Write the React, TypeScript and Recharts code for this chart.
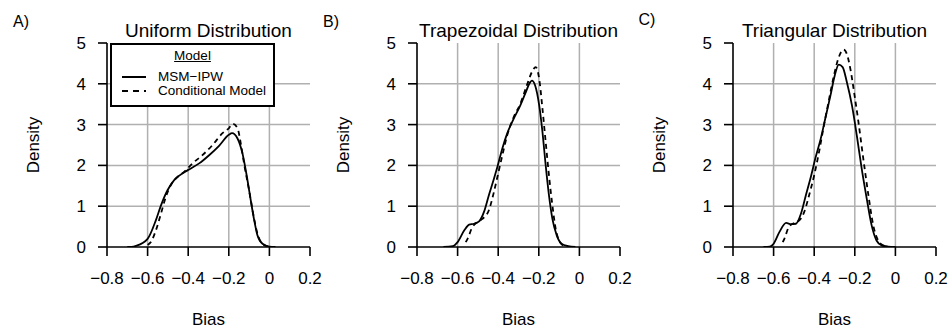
import React from 'react';
import { LineChart, Line, XAxis, YAxis, ReferenceLine, Legend } from 'recharts';

// bias axis ticks and density axis ticks
const biasTicks = [-0.8, -0.6, -0.4, -0.2, 0, 0.2];
const densityTicks = [0, 1, 2, 3, 4, 5];
const biasGrid = [-0.6, -0.4, -0.2, 0];
const densityGrid = [1, 2, 3, 4];

const seriesNames = ['MSM\u2212IPW', 'Conditional Model'];
const panelLetters = ['A)', 'B)', 'C)'];
const panelTitles = ['Uniform Distribution', 'Trapezoidal Distribution', 'Triangular Distribution'];

// A) uniform
const uniformMsmBias = [-0.7, -0.68, -0.657, -0.6, -0.559, -0.534, -0.502, -0.469, -0.444, -0.4, -0.346, -0.297, -0.248, -0.2, -0.184, -0.157, -0.133, -0.108, -0.092, -0.075, -0.059, -0.034, 0, 0.03];
const uniformMsmDensity = [0, 0.005, 0.03, 0.2, 0.66, 1.02, 1.39, 1.64, 1.75, 1.89, 2.05, 2.25, 2.48, 2.75, 2.79, 2.66, 2.3, 1.64, 1.15, 0.66, 0.29, 0.08, 0.01, 0];
const uniformCondBias = [-0.6, -0.584, -0.559, -0.534, -0.51, -0.485, -0.452, -0.42, -0.379, -0.33, -0.28, -0.231, -0.2, -0.18, -0.157, -0.141, -0.125, -0.1, -0.08, -0.059, -0.034, 0];
const uniformCondDensity = [0.05, 0.12, 0.41, 0.82, 1.23, 1.52, 1.72, 1.84, 2.05, 2.25, 2.5, 2.79, 2.91, 3.02, 2.91, 2.54, 2.05, 1.39, 0.82, 0.33, 0.08, 0];

// B) trapezoidal
const trapMsmBias = [-0.67, -0.624, -0.6, -0.567, -0.543, -0.519, -0.494, -0.47, -0.446, -0.421, -0.402, -0.38, -0.356, -0.324, -0.291, -0.267, -0.242, -0.234, -0.218, -0.198, -0.182, -0.166, -0.15, -0.133, -0.112, -0.088, -0.055, -0.02];
const trapMsmDensity = [0, 0.02, 0.12, 0.41, 0.55, 0.57, 0.63, 0.86, 1.27, 1.67, 2.0, 2.41, 2.78, 3.14, 3.47, 3.76, 4.04, 4.08, 3.96, 3.47, 2.82, 2.0, 1.27, 0.69, 0.29, 0.08, 0.02, 0];
const trapCondBias = [-0.56, -0.551, -0.527, -0.502, -0.478, -0.446, -0.421, -0.402, -0.38, -0.356, -0.324, -0.291, -0.259, -0.234, -0.215, -0.198, -0.182, -0.166, -0.15, -0.133, -0.117, -0.096, -0.072, -0.05];
const trapCondDensity = [0.12, 0.2, 0.49, 0.61, 0.69, 0.9, 1.35, 1.76, 2.24, 2.73, 3.18, 3.51, 3.96, 4.29, 4.41, 4.12, 3.39, 2.57, 1.76, 1.02, 0.45, 0.12, 0.02, 0];

// C) triangular
const triMsmBias = [-0.65, -0.619, -0.6, -0.571, -0.538, -0.514, -0.49, -0.465, -0.441, -0.417, -0.393, -0.368, -0.344, -0.32, -0.299, -0.279, -0.26, -0.239, -0.214, -0.19, -0.166, -0.141, -0.117, -0.093, -0.068, -0.036, 0];
const triMsmDensity = [0, 0.01, 0.08, 0.37, 0.59, 0.56, 0.57, 0.82, 1.27, 1.71, 2.2, 2.65, 3.18, 3.71, 4.2, 4.47, 4.41, 4.04, 3.47, 2.73, 1.92, 1.18, 0.53, 0.16, 0.04, 0.01, 0];
const triCondBias = [-0.555, -0.547, -0.525, -0.498, -0.474, -0.449, -0.425, -0.4, -0.376, -0.352, -0.328, -0.303, -0.279, -0.255, -0.239, -0.222, -0.201, -0.182, -0.158, -0.133, -0.109, -0.085, -0.06, -0.03];
const triCondDensity = [0.12, 0.2, 0.49, 0.59, 0.65, 0.86, 1.27, 1.76, 2.33, 2.98, 3.59, 4.2, 4.65, 4.84, 4.73, 4.37, 3.71, 3.06, 2.16, 1.27, 0.53, 0.16, 0.04, 0];

const FONT = '"Liberation Sans", Arial, Helvetica, sans-serif';
const DASH = '5 4';

const zip = (b: number[], d: number[]) => b.map((v, i) => ({ b: v, d: d[i] }));

const panels = [
    { msm: zip(uniformMsmBias, uniformMsmDensity), cond: zip(uniformCondBias, uniformCondDensity), legend: true },
    { msm: zip(trapMsmBias, trapMsmDensity), cond: zip(trapCondBias, trapCondDensity), legend: false },
    { msm: zip(triMsmBias, triMsmDensity), cond: zip(triCondBias, triCondDensity), legend: false },
];
const panelLeft = [0, 310, 626];

const fmtBias = (v: number) => (v === 0 ? '0' : v.toFixed(1).replace('-', '\u2212'));

const Txt = ({ x, y, size, children, rotate }: any) => (
    <div
        style={{
            position: 'absolute',
            left: x,
            top: y,
            transform: `translate(-50%, -50%)${rotate ? ' rotate(-90deg)' : ''}`,
            fontSize: size,
            fontFamily: FONT,
            lineHeight: 1,
            whiteSpace: 'nowrap',
            color: '#000',
        }}
    >
        {children}
    </div>
);

const ModelLegend = (props: any) => {
    // keep the legend order of the reference: MSM-IPW first, then the dashed one
    const items = [...(props.payload || [])].sort(
        (a: any, b: any) => seriesNames.indexOf(a.value) - seriesNames.indexOf(b.value)
    );
    return (
        <div
            style={{
                width: 165,
                height: 64,
                boxSizing: 'border-box',
                border: '2px solid #000',
                background: '#fff',
                fontFamily: FONT,
                fontSize: 13.5,
                lineHeight: '14px',
                position: 'relative',
            }}
        >
            <div style={{ position: 'absolute', left: 0, right: 0, top: 4, textAlign: 'center', textDecoration: 'underline' }}>Model</div>
            {items.map((it: any, i: number) => (
                <div key={i} style={{ position: 'absolute', left: 10, top: 25 + i * 14, height: 14, display: 'flex', alignItems: 'center' }}>
                    <svg width={26} height={4} style={{ marginRight: 10 }}>
                        <line
                            x1={0}
                            y1={2}
                            x2={24}
                            y2={2}
                            stroke="#000"
                            strokeWidth={2}
                            strokeDasharray={seriesNames.indexOf(it.value) === 1 ? '6 5' : undefined}
                        />
                    </svg>
                    <span>{it.value}</span>
                </div>
            ))}
        </div>
    );
};

const Panel = ({ idx }: { idx: number }) => {
    const p = panels[idx];
    const left = panelLeft[idx];
    const axisStyle = { stroke: '#000', strokeWidth: 1.6 };
    return (
        <div style={{ position: 'absolute', left, top: 0, width: 325, height: 329 }}>
            <LineChart width={325} height={329} margin={{ top: 43, right: 15, bottom: 0, left: 0 }}>
                <XAxis
                    type="number"
                    dataKey="b"
                    domain={[-0.8, 0.2]}
                    ticks={biasTicks}
                    interval={0}
                    allowDataOverflow
                    tickFormatter={fmtBias}
                    tickSize={9}
                    tickMargin={16}
                    height={82}
                    axisLine={axisStyle}
                    tickLine={axisStyle}
                    tick={{ fill: '#000', fontSize: 17, fontFamily: FONT }}
                />
                <YAxis
                    type="number"
                    dataKey="d"
                    domain={[0, 5]}
                    ticks={densityTicks}
                    interval={0}
                    allowDataOverflow
                    tickSize={9}
                    tickMargin={12}
                    width={107}
                    axisLine={axisStyle}
                    tickLine={axisStyle}
                    tick={{ fill: '#000', fontSize: 17, fontFamily: FONT }}
                />
                {biasGrid.map((v) => (
                    <ReferenceLine key={'x' + v} x={v} stroke="#b0b0b0" strokeWidth={1.5} />
                ))}
                {densityGrid.map((v) => (
                    <ReferenceLine key={'y' + v} y={v} stroke="#b0b0b0" strokeWidth={1.5} />
                ))}
                <Line
                    data={p.msm}
                    dataKey="d"
                    name={seriesNames[0]}
                    type="monotone"
                    stroke="#000"
                    strokeWidth={1.8}
                    dot={false}
                    isAnimationActive={false}
                />
                <Line
                    data={p.cond}
                    dataKey="d"
                    name={seriesNames[1]}
                    type="monotone"
                    stroke="#000"
                    strokeWidth={1.8}
                    strokeDasharray={DASH}
                    dot={false}
                    isAnimationActive={false}
                />
                {p.legend && (
                    <Legend
                        layout="vertical"
                        align="center"
                        verticalAlign="middle"
                        wrapperStyle={{ left: 110, top: 43, width: 165, height: 64 }}
                        content={<ModelLegend />}
                    />
                )}
            </LineChart>
            <Txt x={21} y={idx === 2 ? 20 : 22} size={16}>{panelLetters[idx]}</Txt>
            <Txt x={208.5} y={30} size={19}>{panelTitles[idx]}</Txt>
            <Txt x={33} y={145} size={17} rotate>Density</Txt>
            <Txt x={208.5} y={319} size={17}>Bias</Txt>
        </div>
    );
};

export default function App() {
    return (
        <div style={{ position: 'absolute', left: 0, top: 0, width: 951, height: 329, background: '#fff', overflow: 'hidden' }}>
            <Panel idx={0} />
            <Panel idx={1} />
            <Panel idx={2} />
        </div>
    );
}
